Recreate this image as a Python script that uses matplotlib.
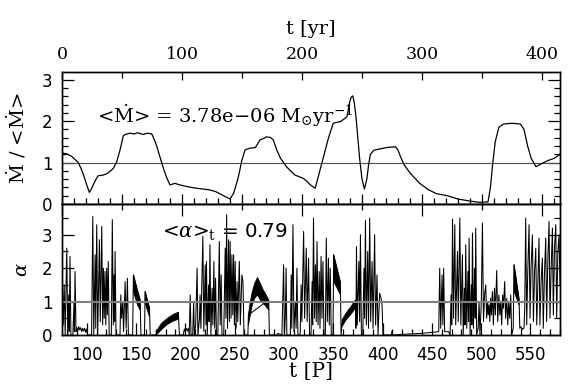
import numpy as np
import matplotlib.pyplot as plt
from matplotlib.ticker import MultipleLocator

plt.rcParams['mathtext.fontset'] = 'dejavuserif'
SERIF = 'DejaVu Serif'
SANS = 'DejaVu Sans'

# time range of the run
P_start, P_end = 75.0, 580.0
yr_end = 415.0

# accretion rate, normalised (top panel, x in yr)
mdot_yr = [0, 4, 8, 13.6, 16.4, 18.5, 20.6, 22.8, 24.5, 26, 28, 30, 34.5, 38, 42.8, 45.6,
           48.4, 51.1, 53, 56.7, 60, 63, 65, 68, 71, 74.8, 77, 79, 82, 84.5, 87, 90, 94.2,
           97, 101, 106, 112, 118, 123, 128, 132, 136, 140, 143, 145, 147, 150, 152.6,
           156.8, 161, 163, 165, 168, 170, 173.5, 176, 179, 182, 187, 194, 201, 204, 207,
           211, 213, 215, 218, 222, 226, 229, 232, 235, 237.5, 239.6, 241, 242.3, 243.5,
           245, 246.5, 248, 250, 252, 254, 255.5, 257, 260, 265, 272, 278, 280, 282, 285,
           290, 298, 305, 312, 321, 330, 340, 348, 355, 357, 359, 361, 364, 368, 375, 382,
           385, 388, 391, 395, 400, 405, 410, 415]
mdot_val = [1.23, 1.21, 1.15, 1.0, 0.82, 0.65, 0.46, 0.28, 0.36, 0.46, 0.58, 0.68, 0.70, 0.74,
            0.86, 1.02, 1.31, 1.65, 1.68, 1.71, 1.69, 1.72, 1.70, 1.68, 1.71, 1.69, 1.55, 1.39,
            1.1, 0.86, 0.65, 0.46, 0.5, 0.47, 0.44, 0.41, 0.38, 0.36, 0.34, 0.30, 0.24, 0.18,
            0.12, 0.26, 0.45, 0.66, 1.07, 1.31, 1.35, 1.36, 1.45, 1.55, 1.58, 1.62, 1.61, 1.55,
            1.3, 1.11, 0.90, 0.70, 0.62, 0.55, 0.46, 0.38, 0.6, 0.82, 1.15, 1.59, 1.95, 1.97,
            1.99, 2.05, 2.11, 2.45, 2.58, 2.61, 2.45, 2.1, 1.6, 1.1, 0.6, 0.36, 0.6, 0.95, 1.2,
            1.3, 1.33, 1.37, 1.38, 1.3, 1.15, 0.95, 0.75, 0.5, 0.35, 0.25, 0.2, 0.12, 0.07,
            0.04, 0.05, 0.4, 1.0, 1.5, 1.85, 1.93, 1.95, 1.93, 1.8, 1.4, 1.1, 0.9, 0.98, 1.05,
            1.1, 1.2]

# alpha (bottom panel, x in orbital periods)
alpha_P = [75.2, 76.2, 77.2, 78.2, 79.8, 80.8, 81.8, 82.4, 83.1, 84.0, 86.0, 87.2, 87.6, 88.2,
           89.2, 90.0, 91.0, 92.0, 93.0, 94.0, 95.0, 96.0, 97.0, 98.0, 99.0, 100.0, 101.0,
           105.0, 106.2, 107.2, 108.6, 109.2, 110.2, 111.2, 112.9, 113.8, 115.3, 116.2, 117.0,
           117.8, 118.6, 119.4, 120.3, 121.0, 121.9, 122.8, 125.0, 126.0, 127.0, 127.8, 128.3,
           128.8, 129.8, 133.8, 134.6, 135.4, 136.6, 137.4, 139.0, 140.0, 141.3, 142.3, 146.6,
           147.4, 154.2, 155.0, 158.6, 159.3, 163.7, 164.4, 170.4, 193.0, 194.0, 198.0, 199.0,
           200.0, 201.0, 202.0, 203.0, 204.0, 205.0, 205.8, 207.5, 208.5, 209.2, 210.5, 212.0,
           212.8, 214.4, 215.0, 215.8, 217.8, 218.8, 220.2, 221.0, 221.5, 222.3, 223.6, 224.2,
           225.0, 226.0, 227.2, 228.0, 229.0, 229.8, 230.7, 231.6, 233.0, 234.5, 235.4, 236.4,
           237.2, 239.0, 240.5, 241.2, 241.9, 242.8, 243.9, 244.7, 245.5, 246.4, 247.3, 248.2,
           249.0, 249.8, 250.6, 251.5, 252.5, 253.2, 254.8, 255.8, 257.4, 258.5, 259.5, 263.5,
           264.0, 284.5, 285.3, 293.0, 294.0, 298.0, 299.7, 300.5, 301.5, 302.2, 303.0, 306.5,
           307.4, 308.0, 309.2, 310.2, 311.6, 312.4, 313.2, 314.2, 316.5, 317.5, 318.2, 320.0,
           321.0, 322.7, 323.6, 325.0, 326.0, 327.5, 328.6, 329.2, 330.0, 331.0, 332.0, 332.8,
           333.6, 334.6, 335.8, 336.6, 337.7, 338.6, 339.6, 340.6, 342.0, 343.0, 344.0, 345.2,
           346.0, 347.0, 348.0, 349.8, 350.5, 357.3, 358.0, 359.0, 372.5, 373.0, 373.6, 374.4,
           376.0, 376.8, 377.6, 378.6, 380.0, 381.2, 381.8, 382.7, 383.6, 385.0, 385.8, 387.0,
           388.0, 389.4, 390.4, 392.0, 393.0, 394.4, 395.4, 397.1, 398.5, 399.5, 400.5, 409.0,
           409.6, 410.2, 420.0, 440.0, 457.0, 458.0, 459.0, 460.4, 461.2, 462.0, 463.0, 465.5,
           467.0, 468.5, 469.5, 470.2, 471.0, 472.0, 473.3, 474.2, 476.0, 476.8, 478.4, 479.4,
           481.0, 481.8, 483.0, 483.6, 484.4, 485.4, 486.6, 487.2, 487.8, 488.8, 490.0, 490.6,
           491.2, 492.2, 493.4, 494.0, 494.5, 495.5, 497.0, 497.9, 498.8, 500.2, 501.3, 502.4,
           503.5, 504.7, 505.6, 506.6, 507.2, 508.0, 508.8, 509.6, 510.4, 511.4, 512.4, 513.5,
           514.4, 515.8, 516.8, 518.0, 519.0, 519.9, 520.8, 521.8, 522.6, 523.9, 524.8, 526.0,
           527.0, 528.0, 529.0, 530.0, 531.0, 532.5, 533.4, 538.5, 539.2, 540.5, 541.5, 542.5,
           543.5, 544.2, 545.2, 546.2, 547.2, 548.6, 549.6, 550.6, 552.0, 553.0, 554.2, 555.4,
           556.4, 557.6, 558.7, 559.6, 560.8, 562.1, 563.0, 564.2, 565.5, 566.4, 567.6, 568.9,
           569.8, 571.0, 572.3, 573.2, 574.4, 575.7, 576.6, 577.8, 579.0, 580.0]
alpha_val = [1.8, 0.3, 1.5, 0.0, 2.6, 0.0, 1.2, 0.1, 2.35, 0.0, 0.0, 1.0, 0.1, 1.9,
             0.1, 0.22, 0.12, 0.25, 0.15, 0.22, 0.1, 0.2, 0.12, 0.2, 0.08, 0.18, 0.0,
             0.0, 3.55, 0.0, 2.4, 0.2, 3.3, 0.0, 2.85, 0.4, 3.25, 0.3, 2.0,
             0.5, 1.9, 0.3, 2.0, 0.6, 2.2, 0.0, 0.0, 3.45, 0.3, 1.8, 0.4,
             2.5, 0.0, 0.0, 1.2, 0.5, 1.0, 0.1, 1.6, 0.2, 1.7, 0.0, 0.0,
             1.8, 1.05, 0.0, 0.0, 1.3, 0.8, 0.0, 0.0, 0.68, 0.0, 0.0, 0.18,
             0.1, 0.2, 0.12, 0.2, 0.0, 1.2, 0.0, 0.0, 1.0, 0.0, 0.3, 2.0,
             0.0, 0.5, 1.2, 0.2, 2.95, 0.1, 2.1, 0.3, 2.2, 0.0, 1.5, 0.4,
             2.7, 0.0, 1.4, 0.3, 2.2, 0.2, 1.7, 0.0, 0.0, 2.8, 0.3, 1.8,
             0.0, 0.0, 2.6, 0.5, 3.6, 0.2, 2.85, 0.4, 2.8, 0.5, 2.4, 0.6,
             2.4, 0.3, 2.2, 0.2, 1.6, 0.4, 2.2, 0.3, 1.8, 1.6, 0.0, 0.0,
             0.6, 1.05, 0.0, 0.0, 0.05, 0.0, 2.1, 0.0, 0.6, 2.0, 0.0, 0.0,
             1.8, 0.2, 3.3, 0.1, 1.0, 0.2, 2.0, 0.0, 0.0, 1.5, 0.4, 3.1,
             0.5, 2.6, 0.4, 2.3, 0.0, 0.0, 1.6, 0.3, 3.5, 0.5, 2.1, 0.4,
             2.8, 0.3, 1.9, 0.2, 2.35, 0.5, 2.2, 0.0, 0.0, 2.9, 0.4, 2.3,
             0.3, 2.0, 0.0, 0.0, 2.4, 1.4, 0.0, 0.35, 1.0, 0.2, 2.65, 0.3,
             2.2, 0.4, 3.0, 0.0, 0.0, 2.0, 0.5, 3.43, 0.3, 2.5, 0.2, 3.5,
             0.4, 2.2, 0.2, 3.0, 0.3, 1.8, 0.0, 1.25, 1.1, 0.9, 0.0, 0.0,
             0.12, 0.0, 0.02, 0.05, 0.1, 2.0, 0.2, 1.8, 0.3, 2.0, 0.1, 0.1,
             0.1, 0.0, 1.2, 0.3, 3.47, 0.5, 3.3, 0.3, 2.5, 0.4, 3.5, 0.3,
             2.4, 0.0, 1.4, 0.3, 2.7, 0.2, 1.9, 0.4, 2.9, 0.0, 1.5, 0.3,
             3.05, 0.2, 2.0, 0.5, 3.2, 0.0, 0.2, 1.0, 0.0, 1.0, 3.35, 0.4,
             1.2, 1.5, 0.5, 1.0, 0.6, 0.9, 0.4, 1.1, 0.6, 1.3, 0.3, 1.4,
             0.6, 1.93, 0.4, 1.2, 0.6, 1.0, 0.3, 1.2, 0.8, 1.6, 0.5, 1.1,
             0.3, 1.0, 0.5, 1.2, 0.0, 0.2, 2.1, 1.0, 0.2, 0.25, 0.15, 0.2,
             0.2, 0.8, 3.5, 0.3, 1.8, 3.3, 0.5, 2.0, 3.0, 0.4, 1.9, 2.6,
             0.3, 1.6, 2.9, 0.3, 1.6, 2.3, 0.2, 1.8, 2.9, 0.4, 2.2, 3.4,
             0.5, 2.0, 3.2, 0.6, 2.6, 3.3, 0.5, 2.5, 3.0, 1.5]

# rapidly oscillating stretches, read as lower / upper envelopes
nan = np.nan
band_P = [147.4, 149.5, 151.5, 154.2, nan, 159.3, 161.5, 163.7, nan,
          170.4, 176, 182, 188, 193, nan,
          264, 266, 268, 270.5, 273.3, 276, 279, 282, 284.5, nan,
          350.5, 354, 357.3, nan, 359, 363, 368, 372.5, nan, 533.4, 536, 538.5]
band_lo = [1.3, 1.1, 0.9, 0.75, nan, 0.95, 0.75, 0.55, nan,
           0.0, 0.18, 0.32, 0.42, 0.47, nan,
           0.3, 0.6, 0.9, 1.1, 1.2, 1.05, 0.95, 0.85, 0.75, nan,
           1.6, 1.4, 1.2, nan, 0.25, 0.45, 0.62, 0.8, nan, 1.3, 1.1, 0.9]
band_hi = [1.8, 1.55, 1.3, 1.05, nan, 1.3, 1.05, 0.8, nan,
           0.1, 0.35, 0.5, 0.62, 0.68, nan,
           0.6, 1.0, 1.3, 1.55, 1.72, 1.55, 1.35, 1.2, 1.05, nan,
           2.4, 2.0, 1.6, nan, 0.45, 0.65, 0.85, 1.05, nan, 2.1, 1.6, 1.1]

fig = plt.figure(figsize=(5.7, 3.89), dpi=100)
ax1 = fig.add_axes([0.1088, 0.4756, 0.8737, 0.3386])
ax2 = fig.add_axes([0.1088, 0.1388, 0.8737, 0.3368])

# ---- top panel
ax1.plot(mdot_yr, mdot_val, color='k', lw=0.9, zorder=3)
ax1.axhline(1.0, color='0.3', lw=0.8, zorder=2)
ax1.set_xlim(0, yr_end)
ax1.set_ylim(0, 3.18)
ax1.xaxis.set_major_locator(MultipleLocator(50))
ax1.xaxis.set_minor_locator(MultipleLocator(10))
ax1.yaxis.set_major_locator(MultipleLocator(1))
ax1.yaxis.set_minor_locator(MultipleLocator(0.2))
ax1.tick_params(axis='x', which='both', direction='in', bottom=True, top=False,
                labelbottom=False, width=0.9)
ax1.tick_params(axis='x', which='major', length=7.5)
ax1.tick_params(axis='x', which='minor', length=4)
ax1.tick_params(axis='y', which='both', direction='in', left=True, right=True,
                labelsize=12, pad=7, width=0.9, labelfontfamily=SANS)
ax1.tick_params(axis='y', which='major', length=8.5)
ax1.tick_params(axis='y', which='minor', length=4.5)
ax1.set_ylabel(r'$\dot{\rm M}$ / <$\dot{\rm M}$>', fontsize=14, family=SERIF)
ax1.yaxis.set_label_coords(-0.090, 0.50)
ax1.yaxis.label.set_va('center')
ax1.text(0.0697, 0.615, r'<$\dot{\rm M}$> = 3.78e$-$06 M$_{\odot}$yr$^{-1}$',
         transform=ax1.transAxes, fontsize=14, family=SERIF, va='baseline', zorder=1)

ax1t = ax1.twiny()
ax1t.set_xlim(0, yr_end)
ax1t.xaxis.set_major_locator(MultipleLocator(100))
ax1t.xaxis.set_minor_locator(MultipleLocator(50))
ax1t.tick_params(axis='x', which='both', direction='in', top=True, bottom=False,
                 labeltop=True, labelsize=12.5, pad=7, width=0.9, labelfontfamily=SERIF)
ax1t.tick_params(axis='x', which='major', length=6)
ax1t.tick_params(axis='x', which='minor', length=4.3)
ax1t.set_xlabel('t [yr]', fontsize=14, family=SERIF)
ax1t.xaxis.set_label_coords(0.5, 1.33)
ax1t.xaxis.label.set_va('center')

# ---- bottom panel
ax2.plot(alpha_P, alpha_val, color='k', lw=0.75, zorder=2)
ax2.fill_between(band_P, band_lo, band_hi, color='k', lw=0.6, zorder=2)
ax2.axhline(1.0, color='0.5', lw=1.5, zorder=3)
ax2.set_xlim(P_start, P_end)
ax2.set_ylim(0, 3.92)
ax2.xaxis.set_major_locator(MultipleLocator(50))
ax2.xaxis.set_minor_locator(MultipleLocator(10))
ax2.yaxis.set_major_locator(MultipleLocator(1))
ax2.yaxis.set_minor_locator(MultipleLocator(0.5))
ax2.tick_params(axis='x', which='both', direction='in', bottom=True, top=False,
                labelsize=12, pad=8, width=0.9, labelfontfamily=SANS)
ax2.tick_params(axis='x', which='major', length=8.5)
ax2.tick_params(axis='x', which='minor', length=4.3)
ax2.tick_params(axis='y', which='both', direction='in', left=True, right=True,
                labelsize=12, pad=7, width=0.9, labelfontfamily=SANS)
ax2.tick_params(axis='y', which='major', length=8.5)
ax2.tick_params(axis='y', which='minor', length=4.5)
ax2.set_xlabel('t [P]', fontsize=14.5, family=SERIF)
ax2.xaxis.set_label_coords(0.5, -0.282)
ax2.xaxis.label.set_va('center')
ax2.set_ylabel(r'$\alpha$', fontsize=14)
ax2.yaxis.set_label_coords(-0.081, 0.50)
ax2.yaxis.label.set_va('center')
ax2.text(0.2002, 0.740, r'<$\alpha$>$_{\rm t}$ = 0.79', transform=ax2.transAxes,
         fontsize=14.3, family=SANS, va='baseline', zorder=1)

ax2t = ax2.twiny()
ax2t.set_xlim(0, yr_end)
ax2t.xaxis.set_major_locator(MultipleLocator(100))
ax2t.xaxis.set_minor_locator(MultipleLocator(50))
ax2t.tick_params(axis='x', which='both', direction='in', top=True, bottom=False,
                 labeltop=False, width=0.9)
ax2t.tick_params(axis='x', which='major', length=8.5)
ax2t.tick_params(axis='x', which='minor', length=4.3)

for a in (ax1, ax1t, ax2, ax2t):
    for s in a.spines.values():
        s.set_linewidth(1.0)

fig.savefig('out.png', dpi=100)
